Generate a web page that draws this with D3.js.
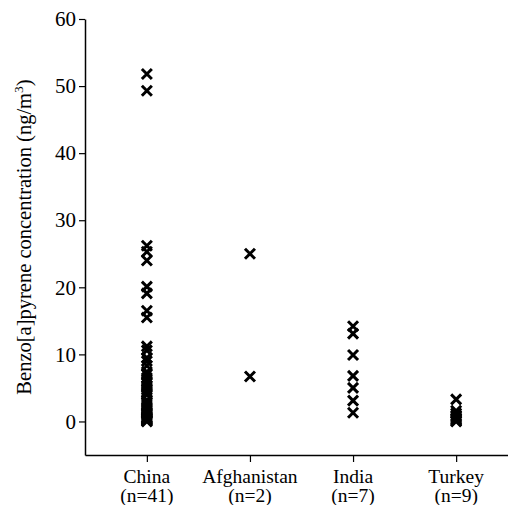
<!DOCTYPE html>
<html>
<head>
<meta charset="utf-8">
<script src="https://cdn.jsdelivr.net/npm/d3@7"></script>
<style>
  html, body { margin: 0; padding: 0; background: #fff; }
  svg { display: block; }
</style>
</head>
<body>
<svg id="chart" width="508" height="505"></svg>
<script>
const categories = ["China", "Afghanistan", "India", "Turkey"];
const categoryCounts = ["(n=41)", "(n=2)", "(n=7)", "(n=9)"];
const chinaValues = [51.8, 49.3, 26.2, 25.3, 24.0, 20.1, 19.1, 16.5, 15.5,
  11.2, 10.6, 9.5, 9.0, 8.3, 7.4, 7.0, 6.5, 6.0, 5.7, 5.3, 5.0, 4.7, 4.3, 4.0,
  3.2, 2.9, 2.6, 2.3, 2.0, 1.7, 1.4, 1.2, 1.0, 0.8, 0.6, 0.5, 0.4, 0.3, 0.2, 0.1, 0.0];
const afghanistanValues = [25.0, 6.7];
const indiaValues = [14.2, 13.1, 9.9, 6.8, 5.0, 3.1, 1.3];
const turkeyValues = [3.3, 1.6, 1.2, 0.9, 0.7, 0.5, 0.3, 0.1, 0.0];
const yTicks = [0, 10, 20, 30, 40, 50, 60];

const FONT = "'Liberation Serif', 'Times New Roman', Times, 'DejaVu Serif', serif";

const seriesValues = [chinaValues, afghanistanValues, indiaValues, turkeyValues];
const points = [];
categories.forEach((c, i) => seriesValues[i].forEach(v => points.push({cat: c, v})));

const svg = d3.select("#chart");
const x = d3.scalePoint().domain(categories).range([85, 518]).padding(0.6);
const y = d3.scaleLinear().domain([-5, 60]).range([455, 19]);

// Y axis
const yAxis = svg.append("g").attr("transform", "translate(85,0)")
  .call(d3.axisLeft(y).tickValues(yTicks).tickSize(6).tickSizeOuter(0).tickPadding(3));
yAxis.attr("font-family", FONT);
yAxis.select(".domain").attr("stroke", "#000").attr("stroke-width", 1.5);
yAxis.selectAll(".tick line").attr("stroke", "#000").attr("stroke-width", 1.2);
yAxis.selectAll(".tick text").attr("font-size", 21).attr("fill", "#000");

// X axis
const xAxis = svg.append("g").attr("transform", "translate(0,455)")
  .call(d3.axisBottom(x).tickSize(7).tickSizeOuter(0).tickFormat(""));
xAxis.select(".domain").attr("stroke", "#000").attr("stroke-width", 1.5);
xAxis.selectAll(".tick line").attr("stroke", "#000").attr("stroke-width", 1.2);

// Category labels
const labels = svg.append("g").attr("font-family", FONT).attr("font-size", 19.5);
categories.forEach((c, i) => {
  labels.append("text").attr("x", x(c)).attr("y", 483)
    .attr("text-anchor", "middle").text(c);
  labels.append("text").attr("x", x(c)).attr("y", 502)
    .attr("text-anchor", "middle").text(categoryCounts[i]);
});

// Y label
const yl = svg.append("text")
  .attr("font-family", FONT)
  .attr("transform", "translate(31,237) rotate(-90)")
  .attr("text-anchor", "middle")
  .attr("font-size", 20.5);
yl.append("tspan").text("Benzo[a]pyrene concentration (ng/m");
yl.append("tspan").attr("dy", -8).attr("font-size", 13.5).text("3");
yl.append("tspan").attr("dy", 8).text(")");

// Markers
const s = 5;
svg.append("g").selectAll("path").data(points).join("path")
  .attr("transform", d => `translate(${x(d.cat)},${y(d.v)})`)
  .attr("d", `M${-s},${-s}L${s},${s}M${-s},${s}L${s},${-s}`)
  .attr("stroke", "#000").attr("stroke-width", 3).attr("fill", "none");
</script>
</body>
</html>
